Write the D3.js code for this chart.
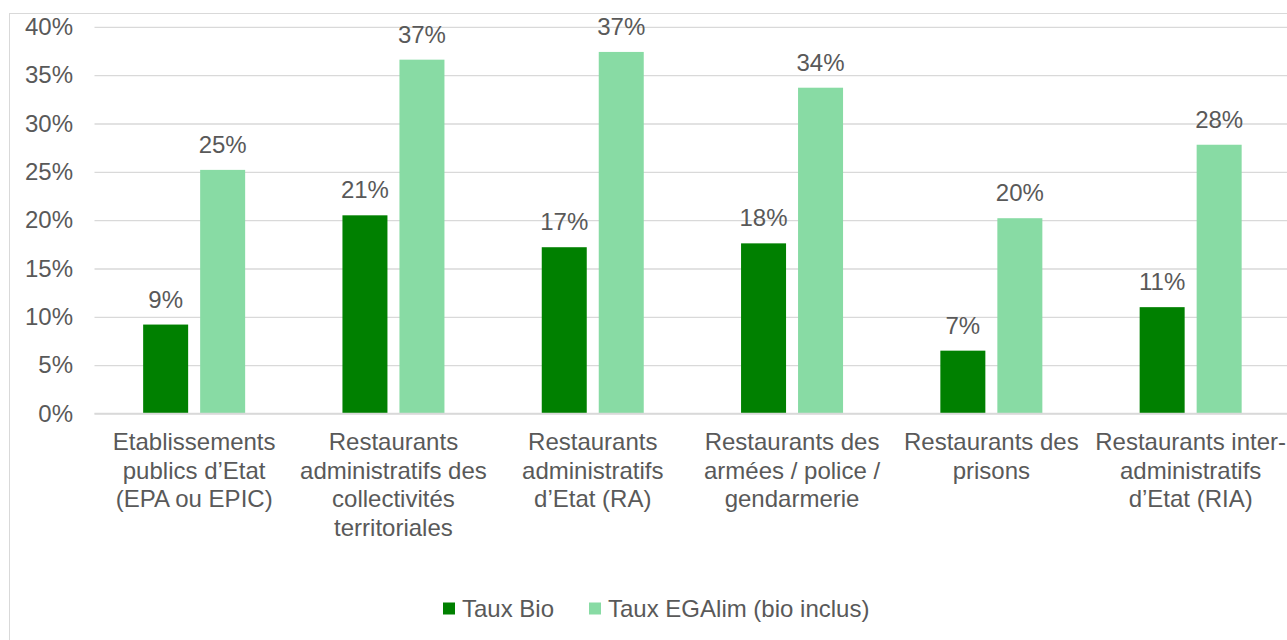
<!DOCTYPE html>
<html>
<head>
<meta charset="utf-8">
<script src="https://cdn.jsdelivr.net/npm/d3@7"></script>
<style>
  body { margin: 0; background: #fff; }
  svg text { font-family: "Liberation Sans", Arial, sans-serif; fill: #595959; }
</style>
</head>
<body>
<div id="chart"></div>
<script>
// category labels, already split on lines as in the original
var categories = [
    ["Etablissements", "publics d\u2019Etat", "(EPA ou EPIC)"],
    ["Restaurants", "administratifs des", "collectivit\u00e9s", "territoriales"],
    ["Restaurants", "administratifs", "d\u2019Etat (RA)"],
    ["Restaurants des", "arm\u00e9es / police /", "gendarmerie"],
    ["Restaurants des", "prisons"],
    ["Restaurants inter-", "administratifs", "d\u2019Etat (RIA)"]
];

var tauxBio = [0.092, 0.205, 0.172, 0.176, 0.065, 0.110];
var tauxEgalim = [0.252, 0.366, 0.374, 0.337, 0.202, 0.278];

var seriesNames = ["Taux Bio", "Taux EGAlim (bio inclus)"];
var seriesColors = ["#008000", "#88dba4"];

var yTicks = [0, 0.05, 0.10, 0.15, 0.20, 0.25, 0.30, 0.35, 0.40];

(function () {

    var width = 1287,
        height = 640,
        left = 94.5,
        step = 199.3,
        top = 26.8,
        bottom = 413.5,
        fontSize = 24;

    var svg = d3.select("#chart")
        .append("svg")
        .attr("width", width)
        .attr("height", height);

    // chart frame
    svg.append("rect")
        .attr("x", 9.5).attr("y", 13.5)
        .attr("width", 1300).attr("height", 700)
        .attr("fill", "none")
        .attr("stroke", "#d9d9d9")
        .attr("stroke-width", 1);

    var x = d3.scaleBand()
        .domain(d3.range(categories.length))
        .range([left, left + step * categories.length]);

    var y = d3.scaleLinear()
        .domain([0, 0.40])
        .range([bottom, top]);

    var fmt = d3.format(".0%");

    // gridlines + y labels
    var yAxis = d3.axisLeft(y)
        .tickValues(yTicks)
        .tickFormat(fmt)
        .tickSize(-(width - left))
        .tickPadding(21.5);

    var g = svg.append("g")
        .attr("transform", "translate(" + left + ",0)")
        .call(yAxis);

    g.select(".domain").remove();
    g.selectAll(".tick line")
        .attr("stroke", "#d9d9d9")
        .attr("stroke-width", 1.3);
    g.selectAll(".tick text")
        .attr("font-size", fontSize)
        .attr("font-family", "Liberation Sans, Arial, sans-serif")
        .attr("fill", "#595959");

    var barW = 45, gap = 12;
    var series = [tauxBio, tauxEgalim];

    series.forEach(function (vals, s) {
        var offset = s === 0 ? -(gap / 2 + barW) : gap / 2;

        svg.append("g").selectAll("rect")
            .data(vals)
            .enter().append("rect")
            .attr("x", function (d, i) { return x(i) + x.bandwidth() / 2 + offset; })
            .attr("y", function (d) { return y(d); })
            .attr("width", barW)
            .attr("height", function (d) { return y(0) - y(d); })
            .attr("fill", seriesColors[s]);

        svg.append("g").selectAll("text")
            .data(vals)
            .enter().append("text")
            .attr("x", function (d, i) { return x(i) + x.bandwidth() / 2 + offset + barW / 2; })
            .attr("y", function (d) { return y(d) - 17; })
            .attr("text-anchor", "middle")
            .attr("font-size", fontSize)
            .text(function (d) { return fmt(d); });
    });

    // x axis line
    svg.append("line")
        .attr("x1", left).attr("x2", width)
        .attr("y1", bottom).attr("y2", bottom)
        .attr("stroke", "#d9d9d9")
        .attr("stroke-width", 1.3);

    // category labels
    var cat = svg.append("g").selectAll("text")
        .data(categories)
        .enter().append("text")
        .attr("x", function (d, i) { return x(i) + x.bandwidth() / 2; })
        .attr("y", 450)
        .attr("text-anchor", "middle")
        .attr("font-size", fontSize);

    cat.selectAll("tspan")
        .data(function (d) { return d; })
        .enter().append("tspan")
        .attr("x", function () { return d3.select(this.parentNode).attr("x"); })
        .attr("dy", function (d, i) { return i === 0 ? 0 : 28.5; })
        .text(function (d) { return d; });

    // legend
    var legendX = [443, 589];
    var leg = svg.append("g");
    seriesNames.forEach(function (name, s) {
        leg.append("rect")
            .attr("x", legendX[s]).attr("y", 602.5)
            .attr("width", 12).attr("height", 12)
            .attr("fill", seriesColors[s]);
        leg.append("text")
            .attr("x", legendX[s] + 19).attr("y", 617)
            .attr("font-size", fontSize)
            .text(name);
    });

}());
</script>
</body>
</html>
